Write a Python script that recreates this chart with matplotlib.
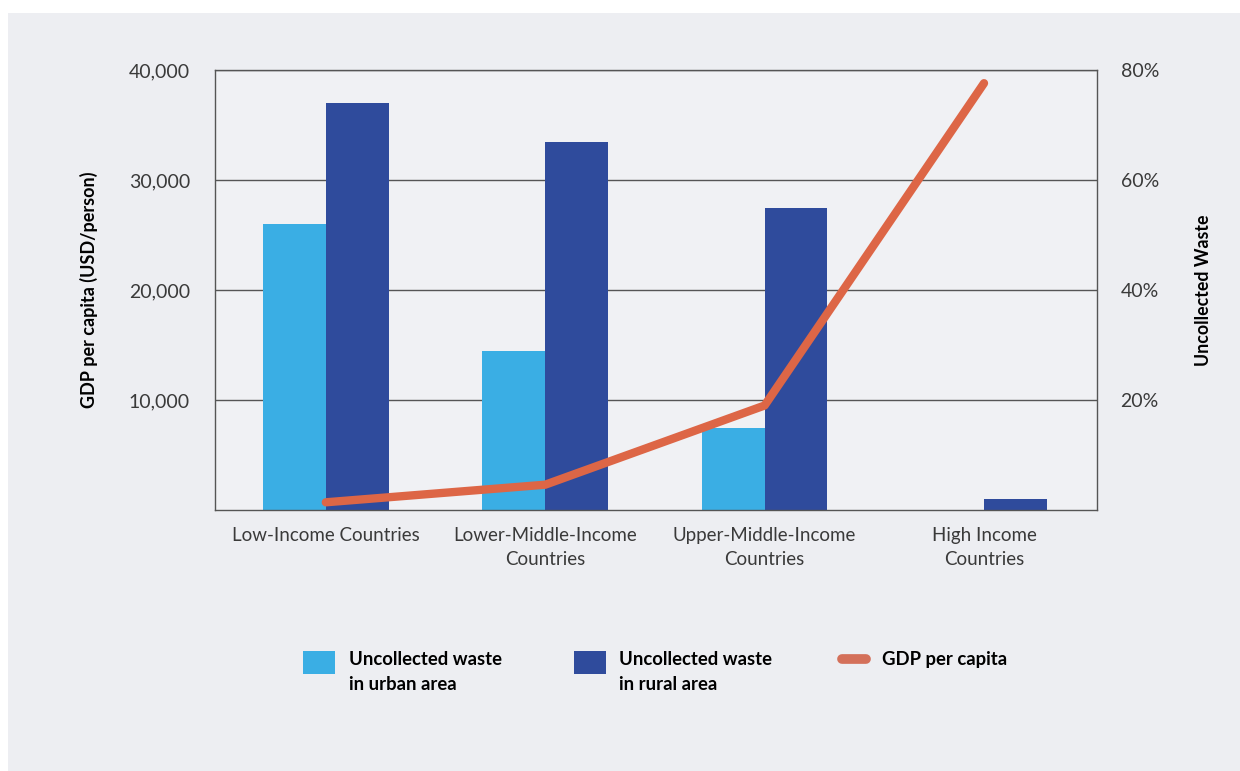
import matplotlib
matplotlib.use("Agg")
import matplotlib.pyplot as plt
from matplotlib.patches import Rectangle
from matplotlib.lines import Line2D
import numpy as np

categories = ["Low-Income Countries", "Lower-Middle-Income\nCountries",
              "Upper-Middle-Income\nCountries", "High Income\nCountries"]
urban_pct = [52, 29, 15, 0]
rural_pct = [74, 67, 55, 2]
gdp = [700, 2300, 9500, 38800]

left_ticks = [10000, 20000, 30000, 40000]
left_labels = ["10,000", "20,000", "30,000", "40,000"]
right_ticks = [20, 40, 60, 80]
right_labels = ["20%", "40%", "60%", "80%"]

URBAN = "#3aaee4"
RURAL = "#2f4b9c"
GDPC = "#dd6646"
PANEL = "#edeef2"
PLOTBG = "#f0f1f4"
TXT = "#3a3a3a"

plt.rcParams['font.family'] = ['Lato', 'DejaVu Sans']

W, H = 1240, 771
fig = plt.figure(figsize=(W / 100, H / 100), dpi=100)
fig.patch.set_facecolor("white")

def fx(px):
    return px / W

def fy(py):
    return 1 - py / H

# gray panel
fig.add_artist(Rectangle((fx(8), 0), 1 - fx(8), fy(13), transform=fig.transFigure,
                         facecolor=PANEL, edgecolor="none", zorder=0))

ax = fig.add_axes([fx(215), fy(510), fx(1097) - fx(215), fy(70) - fy(510)])
ax.set_facecolor(PLOTBG)
x = np.arange(len(categories))
bw = 0.286
ax.bar(x - bw / 2, urban_pct, width=bw, color=URBAN, zorder=2)
ax.bar(x + bw / 2, rural_pct, width=bw, color=RURAL, zorder=2)
ax.set_xlim(-0.505, 3.515)
ax.set_ylim(0, 80)
ax.grid(axis="y", color="#555555", linewidth=1.0)
ax.set_axisbelow(True)
ax.set_xticks(x)
ax.set_xticklabels(categories, fontsize=13.5, color=TXT, linespacing=1.5)
ax.tick_params(axis="x", length=0, pad=12)
for s in ax.spines.values():
    s.set_color("#555555")
    s.set_linewidth(1.0)

ax2 = ax.twinx()
ax2.plot(x, gdp, color=GDPC, linewidth=6, solid_capstyle="round",
         solid_joinstyle="round", zorder=3)
ax2.set_ylim(0, 40000)
ax2.set_yticks(left_ticks)
ax2.set_yticklabels(left_labels)
ax2.yaxis.tick_left()
ax2.yaxis.set_label_position("left")
ax2.set_ylabel("GDP per capita (USD/person)", fontsize=13, fontweight="bold", color="black")
ax2.yaxis.set_label_coords(-0.133, 0.5)
ax2.tick_params(axis="y", which="both", left=True, right=False, labelleft=True,
                labelright=False, length=0, pad=18, labelsize=14, labelcolor=TXT)
for s in ax2.spines.values():
    s.set_visible(False)

# right axis (percent) for bars, set after twinx
ax.set_yticks(right_ticks)
ax.set_yticklabels(right_labels)
ax.yaxis.tick_right()
ax.yaxis.set_label_position("right")
ax.tick_params(axis="y", which="both", left=False, right=True, labelleft=False,
               labelright=True, length=0, pad=17, labelsize=14, labelcolor=TXT)
ax.set_ylabel("Uncollected Waste", fontsize=12.8, fontweight="bold", color="black")
ax.yaxis.set_label_coords(1.111, 0.5)

# legend (manual)
def rect(x0, y0, w, h, c):
    fig.add_artist(Rectangle((fx(x0), fy(y0 + h)), fx(w), h / H,
                             transform=fig.transFigure, facecolor=c, edgecolor="none"))

rect(303, 651, 32, 23, URBAN)
rect(574, 651, 32, 23, RURAL)
fig.add_artist(Line2D([fx(842), fx(866)], [fy(659), fy(659)], transform=fig.transFigure,
                      color="#d4705a", linewidth=7, solid_capstyle="round"))
lt = dict(fontsize=13.3, fontweight="bold", color="black", va="top", ha="left",
          linespacing=1.6)
fig.text(fx(349), fy(651), "Uncollected waste\nin urban area", **lt)
fig.text(fx(619), fy(651), "Uncollected waste\nin rural area", **lt)
fig.text(fx(882), fy(651), "GDP per capita", **lt)

fig.savefig("out.png", dpi=100, facecolor=fig.get_facecolor())
